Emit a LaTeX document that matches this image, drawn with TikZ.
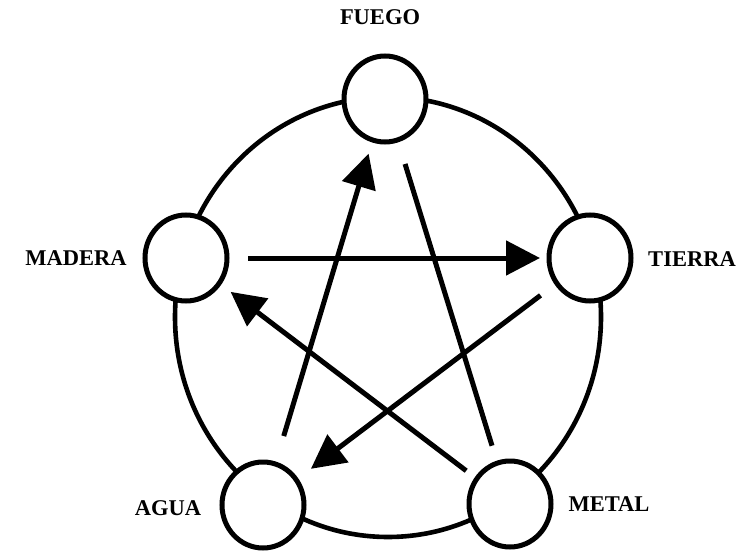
\documentclass[tikz,border=0pt]{standalone}
\usepackage{fontspec}
\setmainfont{Liberation Serif}
\usetikzlibrary{arrows.meta,shapes.geometric}
\begin{document}
\begin{tikzpicture}[x=1pt,y=-1pt,
  elem/.style={ellipse,draw,line width=5pt,fill=white,minimum width=82pt,minimum height=86pt,inner sep=0pt},
  lbl/.style={font=\fontsize{22.5}{24}\selectfont\bfseries,inner sep=0pt},
  conn/.style={line width=5pt},
  arr/.style={conn,-{Triangle[length=34pt,width=34pt]}}]
\useasboundingbox (0,0) rectangle (750,551);
\fill[white] (0,0) rectangle (750,551);
\draw[line width=4.6pt] (388,317) ellipse [x radius=213, y radius=220];
\node[elem] (fuego) at (385,99) {};
\node[elem] (madera) at (186,258) {};
\node[elem] (tierra) at (590,258) {};
\node[elem] (agua) at (263,505) {};
\node[elem] (metal) at (510,504) {};
\node[lbl] (tf) at (380,17) {FUEGO};
\node[lbl] (tm) at (76,258) {MADERA};
\node[lbl] (tt) at (692,259) {TIERRA};
\node[lbl] (ta) at (168,508) {AGUA};
\node[lbl] (tme) at (609,504) {METAL};
\draw[arr,shorten <=62pt,shorten >=50pt] (madera.center) -- (tierra.center);
\draw[arr,shorten <=72pt,shorten >=57pt] (agua.center) -- (fuego.center);
\draw[conn,shorten <=68pt,shorten >=61pt] (fuego.center) -- (metal.center);
\draw[arr,shorten <=62pt,shorten >=60pt] (tierra.center) -- (agua.center);
\draw[arr,shorten <=55pt,shorten >=56pt] (metal.center) -- (madera.center);
\end{tikzpicture}
\end{document}
